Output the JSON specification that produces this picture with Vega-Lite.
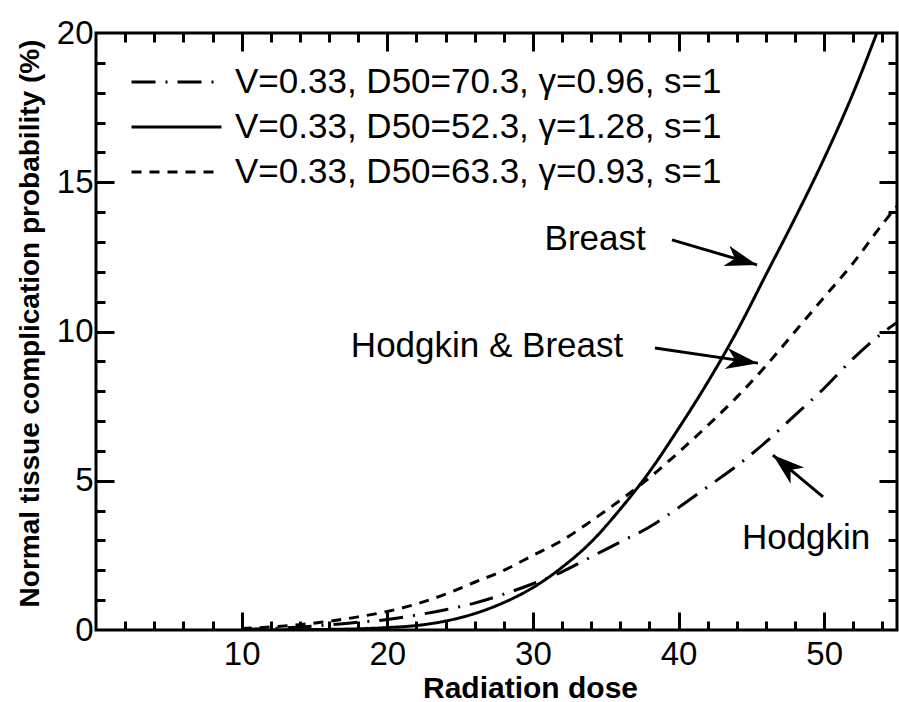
{
  "$schema": "https://vega.github.io/schema/vega-lite/v6.json",
  "width": 801,
  "height": 597,
  "autosize": {"type": "none"},
  "padding": {"left": 96, "top": 33, "right": 2, "bottom": 72},
  "background": "white",
  "config": {
    "view": {"stroke": "black", "strokeWidth": 3},
    "font": "Liberation Sans",
    "axis": {
      "domain": false,
      "tickColor": "black", "tickWidth": 3,
      "labelColor": "black", "titleColor": "black",
      "grid": false, "zindex": 1,
      "labelFont": "Liberation Sans", "titleFont": "Liberation Sans",
      "labelFontSize": 33, "labelOverlap": false, "labelFlush": false, "labelBound": false
    }
  },
  "datasets": {
    "curves": [
      {"model": "V=0.33, D50=52.3, γ=1.28, s=1", "dose": 12, "ntcp": 0.0},
      {"model": "V=0.33, D50=52.3, γ=1.28, s=1", "dose": 14, "ntcp": 0.01},
      {"model": "V=0.33, D50=52.3, γ=1.28, s=1", "dose": 16, "ntcp": 0.02},
      {"model": "V=0.33, D50=52.3, γ=1.28, s=1", "dose": 18, "ntcp": 0.04},
      {"model": "V=0.33, D50=52.3, γ=1.28, s=1", "dose": 20, "ntcp": 0.08},
      {"model": "V=0.33, D50=52.3, γ=1.28, s=1", "dose": 22, "ntcp": 0.15},
      {"model": "V=0.33, D50=52.3, γ=1.28, s=1", "dose": 24, "ntcp": 0.3},
      {"model": "V=0.33, D50=52.3, γ=1.28, s=1", "dose": 26, "ntcp": 0.55},
      {"model": "V=0.33, D50=52.3, γ=1.28, s=1", "dose": 28, "ntcp": 0.92},
      {"model": "V=0.33, D50=52.3, γ=1.28, s=1", "dose": 30, "ntcp": 1.42},
      {"model": "V=0.33, D50=52.3, γ=1.28, s=1", "dose": 32, "ntcp": 2.1},
      {"model": "V=0.33, D50=52.3, γ=1.28, s=1", "dose": 34, "ntcp": 2.95},
      {"model": "V=0.33, D50=52.3, γ=1.28, s=1", "dose": 36, "ntcp": 4.05},
      {"model": "V=0.33, D50=52.3, γ=1.28, s=1", "dose": 38, "ntcp": 5.3},
      {"model": "V=0.33, D50=52.3, γ=1.28, s=1", "dose": 40, "ntcp": 6.75},
      {"model": "V=0.33, D50=52.3, γ=1.28, s=1", "dose": 42, "ntcp": 8.3},
      {"model": "V=0.33, D50=52.3, γ=1.28, s=1", "dose": 44, "ntcp": 10.0},
      {"model": "V=0.33, D50=52.3, γ=1.28, s=1", "dose": 46, "ntcp": 11.9},
      {"model": "V=0.33, D50=52.3, γ=1.28, s=1", "dose": 48, "ntcp": 13.8},
      {"model": "V=0.33, D50=52.3, γ=1.28, s=1", "dose": 50, "ntcp": 15.8},
      {"model": "V=0.33, D50=52.3, γ=1.28, s=1", "dose": 52, "ntcp": 18.0},
      {"model": "V=0.33, D50=52.3, γ=1.28, s=1", "dose": 54, "ntcp": 20.5},

      {"model": "V=0.33, D50=63.3, γ=0.93, s=1", "dose": 10, "ntcp": 0.05},
      {"model": "V=0.33, D50=63.3, γ=0.93, s=1", "dose": 12, "ntcp": 0.1},
      {"model": "V=0.33, D50=63.3, γ=0.93, s=1", "dose": 14, "ntcp": 0.18},
      {"model": "V=0.33, D50=63.3, γ=0.93, s=1", "dose": 16, "ntcp": 0.29},
      {"model": "V=0.33, D50=63.3, γ=0.93, s=1", "dose": 18, "ntcp": 0.44},
      {"model": "V=0.33, D50=63.3, γ=0.93, s=1", "dose": 20, "ntcp": 0.62},
      {"model": "V=0.33, D50=63.3, γ=0.93, s=1", "dose": 22, "ntcp": 0.87},
      {"model": "V=0.33, D50=63.3, γ=0.93, s=1", "dose": 24, "ntcp": 1.2},
      {"model": "V=0.33, D50=63.3, γ=0.93, s=1", "dose": 26, "ntcp": 1.6},
      {"model": "V=0.33, D50=63.3, γ=0.93, s=1", "dose": 28, "ntcp": 2.0},
      {"model": "V=0.33, D50=63.3, γ=0.93, s=1", "dose": 30, "ntcp": 2.5},
      {"model": "V=0.33, D50=63.3, γ=0.93, s=1", "dose": 32, "ntcp": 3.0},
      {"model": "V=0.33, D50=63.3, γ=0.93, s=1", "dose": 34, "ntcp": 3.65},
      {"model": "V=0.33, D50=63.3, γ=0.93, s=1", "dose": 36, "ntcp": 4.35},
      {"model": "V=0.33, D50=63.3, γ=0.93, s=1", "dose": 38, "ntcp": 5.1},
      {"model": "V=0.33, D50=63.3, γ=0.93, s=1", "dose": 40, "ntcp": 5.95},
      {"model": "V=0.33, D50=63.3, γ=0.93, s=1", "dose": 42, "ntcp": 6.85},
      {"model": "V=0.33, D50=63.3, γ=0.93, s=1", "dose": 44, "ntcp": 7.8},
      {"model": "V=0.33, D50=63.3, γ=0.93, s=1", "dose": 46, "ntcp": 8.85},
      {"model": "V=0.33, D50=63.3, γ=0.93, s=1", "dose": 48, "ntcp": 10.0},
      {"model": "V=0.33, D50=63.3, γ=0.93, s=1", "dose": 50, "ntcp": 11.15},
      {"model": "V=0.33, D50=63.3, γ=0.93, s=1", "dose": 52, "ntcp": 12.3},
      {"model": "V=0.33, D50=63.3, γ=0.93, s=1", "dose": 54, "ntcp": 13.6},
      {"model": "V=0.33, D50=63.3, γ=0.93, s=1", "dose": 55, "ntcp": 14.2},

      {"model": "V=0.33, D50=70.3, γ=0.96, s=1", "dose": 10, "ntcp": 0.02},
      {"model": "V=0.33, D50=70.3, γ=0.96, s=1", "dose": 12, "ntcp": 0.05},
      {"model": "V=0.33, D50=70.3, γ=0.96, s=1", "dose": 14, "ntcp": 0.1},
      {"model": "V=0.33, D50=70.3, γ=0.96, s=1", "dose": 16, "ntcp": 0.17},
      {"model": "V=0.33, D50=70.3, γ=0.96, s=1", "dose": 18, "ntcp": 0.26},
      {"model": "V=0.33, D50=70.3, γ=0.96, s=1", "dose": 20, "ntcp": 0.35},
      {"model": "V=0.33, D50=70.3, γ=0.96, s=1", "dose": 22, "ntcp": 0.5},
      {"model": "V=0.33, D50=70.3, γ=0.96, s=1", "dose": 24, "ntcp": 0.68},
      {"model": "V=0.33, D50=70.3, γ=0.96, s=1", "dose": 26, "ntcp": 0.9},
      {"model": "V=0.33, D50=70.3, γ=0.96, s=1", "dose": 28, "ntcp": 1.2},
      {"model": "V=0.33, D50=70.3, γ=0.96, s=1", "dose": 30, "ntcp": 1.55},
      {"model": "V=0.33, D50=70.3, γ=0.96, s=1", "dose": 32, "ntcp": 1.95},
      {"model": "V=0.33, D50=70.3, γ=0.96, s=1", "dose": 34, "ntcp": 2.45},
      {"model": "V=0.33, D50=70.3, γ=0.96, s=1", "dose": 36, "ntcp": 2.95},
      {"model": "V=0.33, D50=70.3, γ=0.96, s=1", "dose": 38, "ntcp": 3.45},
      {"model": "V=0.33, D50=70.3, γ=0.96, s=1", "dose": 40, "ntcp": 4.1},
      {"model": "V=0.33, D50=70.3, γ=0.96, s=1", "dose": 42, "ntcp": 4.8},
      {"model": "V=0.33, D50=70.3, γ=0.96, s=1", "dose": 44, "ntcp": 5.5},
      {"model": "V=0.33, D50=70.3, γ=0.96, s=1", "dose": 46, "ntcp": 6.3},
      {"model": "V=0.33, D50=70.3, γ=0.96, s=1", "dose": 48, "ntcp": 7.2},
      {"model": "V=0.33, D50=70.3, γ=0.96, s=1", "dose": 50, "ntcp": 8.1},
      {"model": "V=0.33, D50=70.3, γ=0.96, s=1", "dose": 52, "ntcp": 9.1},
      {"model": "V=0.33, D50=70.3, γ=0.96, s=1", "dose": 54, "ntcp": 9.95},
      {"model": "V=0.33, D50=70.3, γ=0.96, s=1", "dose": 55, "ntcp": 10.3}
    ],
    "notes": [
      {"label": "Breast", "x": 30.8, "y": 12.73},
      {"label": "Hodgkin & Breast", "x": 17.5, "y": 9.15},
      {"label": "Hodgkin", "x": 44.35, "y": 2.71}
    ],
    "arrows": [
      {"label": "Breast", "x": 39.55, "y": 13.07, "x2": 45.39, "y2": 12.23},
      {"label": "Hodgkin & Breast", "x": 38.38, "y": 9.45, "x2": 45.45, "y2": 8.94},
      {"label": "Hodgkin", "x": 49.92, "y": 4.46, "x2": 46.48, "y2": 5.86}
    ]
  },
  "layer": [
    {
      "data": {"name": "curves"},
      "mark": {"type": "line", "strokeWidth": 3, "color": "black", "clip": true, "interpolate": "monotone"},
      "encoding": {
        "x": {
          "field": "dose", "type": "quantitative",
          "scale": {"domain": [0, 55], "nice": false, "zero": false},
          "axis": {
            "orient": "bottom",
            "values": [10, 20, 30, 40, 50],
            "ticks": false,
            "labelPadding": 8,
            "title": "Radiation dose",
            "titleFontSize": 30, "titleFontWeight": "bold",
            "titleX": 434, "titleY": 67, "titleAlign": "center", "titleBaseline": "alphabetic"
          }
        },
        "y": {
          "field": "ntcp", "type": "quantitative",
          "scale": {"domain": [0, 20], "nice": false},
          "axis": {
            "orient": "left",
            "values": [0, 5, 10, 15, 20],
            "ticks": false,
            "labelPadding": 3,
            "title": "Normal tissue complication  probability (%)",
            "titleFontSize": 28, "titleFontWeight": "bold",
            "titleX": -66, "titleY": 290, "titleAngle": -90, "titleAlign": "center", "titleBaseline": "middle"
          }
        },
        "strokeDash": {
          "field": "model", "type": "nominal",
          "scale": {
            "domain": ["V=0.33, D50=70.3, γ=0.96, s=1", "V=0.33, D50=52.3, γ=1.28, s=1", "V=0.33, D50=63.3, γ=0.93, s=1"],
            "range": [[24, 10, 2, 10], [1, 0], [10, 8]]
          },
          "legend": {
            "orient": "none", "legendX": 34, "legendY": 29,
            "title": null, "symbolType": "stroke", "symbolSize": 8100,
            "symbolStrokeWidth": 3, "symbolStrokeColor": "black",
            "labelFontSize": 35, "labelFont": "Liberation Sans", "labelColor": "black",
            "labelOffset": 12, "clipHeight": 40, "rowPadding": 5, "labelLimit": 0, "padding": 0
          }
        }
      }
    },
    {
      "data": {"name": "notes"},
      "mark": {"type": "text", "align": "left", "baseline": "alphabetic", "fontSize": 35, "font": "Liberation Sans", "color": "black"},
      "encoding": {
        "x": {
          "field": "x", "type": "quantitative",
          "scale": {"domain": [0, 55], "nice": false, "zero": false},
          "axis": {"orient": "top", "values": [10, 20, 30, 40, 50], "labels": false, "title": null, "tickSize": -18}
        },
        "y": {
          "field": "y", "type": "quantitative",
          "scale": {"domain": [0, 20], "nice": false},
          "axis": {"orient": "right", "values": [5, 10, 15], "labels": false, "title": null, "tickSize": -18}
        },
        "text": {"field": "label"}
      }
    },
    {
      "data": {"name": "arrows"},
      "mark": {"type": "rule", "strokeWidth": 3, "color": "black"},
      "encoding": {
        "x": {
          "field": "x", "type": "quantitative", "scale": {"domain": [0, 55], "nice": false, "zero": false},
          "axis": {"orient": "bottom", "values": [2,4,6,8,12,14,16,18,22,24,26,28,32,34,36,38,42,44,46,48,52,54], "labels": false, "title": null, "tickSize": -9}
        },
        "y": {
          "field": "y", "type": "quantitative", "scale": {"domain": [0, 20], "nice": false},
          "axis": {"orient": "left", "values": [1,2,3,4,6,7,8,9,11,12,13,14,16,17,18,19], "labels": false, "title": null, "tickSize": -9}
        },
        "x2": {"field": "x2"},
        "y2": {"field": "y2"}
      }
    },
    {
      "data": {"name": "arrows"},
      "transform": [{"filter": "datum.label === 'Breast'"}],
      "mark": {"type": "point", "shape": "M0,0L-1,-0.33L-0.72,0L-1,0.33Z", "filled": true, "color": "black", "opacity": 1, "size": 4096, "angle": 16.4, "strokeWidth": 0},
      "encoding": {
        "x": {
          "field": "x2", "type": "quantitative", "scale": {"domain": [0, 55], "nice": false, "zero": false},
          "axis": {"orient": "top", "values": [2,4,6,8,12,14,16,18,22,24,26,28,32,34,36,38,42,44,46,48,52,54], "labels": false, "title": null, "tickSize": -9}
        },
        "y": {
          "field": "y2", "type": "quantitative", "scale": {"domain": [0, 20], "nice": false},
          "axis": {"orient": "right", "values": [1,2,3,4,6,7,8,9,11,12,13,14,16,17,18,19], "labels": false, "title": null, "tickSize": -9}
        }
      }
    },
    {
      "data": {"name": "arrows"},
      "transform": [{"filter": "datum.label === 'Hodgkin & Breast'"}],
      "mark": {"type": "point", "shape": "M0,0L-1,-0.33L-0.72,0L-1,0.33Z", "filled": true, "color": "black", "opacity": 1, "size": 4096, "angle": 8.3, "strokeWidth": 0},
      "encoding": {
        "x": {
          "field": "x2", "type": "quantitative", "scale": {"domain": [0, 55], "nice": false, "zero": false},
          "axis": {"orient": "bottom", "values": [10, 20, 30, 40, 50], "labels": false, "title": null, "tickSize": -18}
        },
        "y": {
          "field": "y2", "type": "quantitative", "scale": {"domain": [0, 20], "nice": false},
          "axis": {"orient": "left", "values": [5, 10, 15], "labels": false, "title": null, "tickSize": -18}
        }
      }
    },
    {
      "data": {"name": "arrows"},
      "transform": [{"filter": "datum.label === 'Hodgkin'"}],
      "mark": {"type": "point", "shape": "M0,0L-1,-0.33L-0.72,0L-1,0.33Z", "filled": true, "color": "black", "opacity": 1, "size": 4096, "angle": 220, "strokeWidth": 0},
      "encoding": {
        "x": {"field": "x2", "type": "quantitative", "scale": {"domain": [0, 55], "nice": false, "zero": false}, "axis": null},
        "y": {"field": "y2", "type": "quantitative", "scale": {"domain": [0, 20], "nice": false}, "axis": null}
      }
    }
  ],
  "resolve": {"axis": {"x": "independent", "y": "independent"}}
}
